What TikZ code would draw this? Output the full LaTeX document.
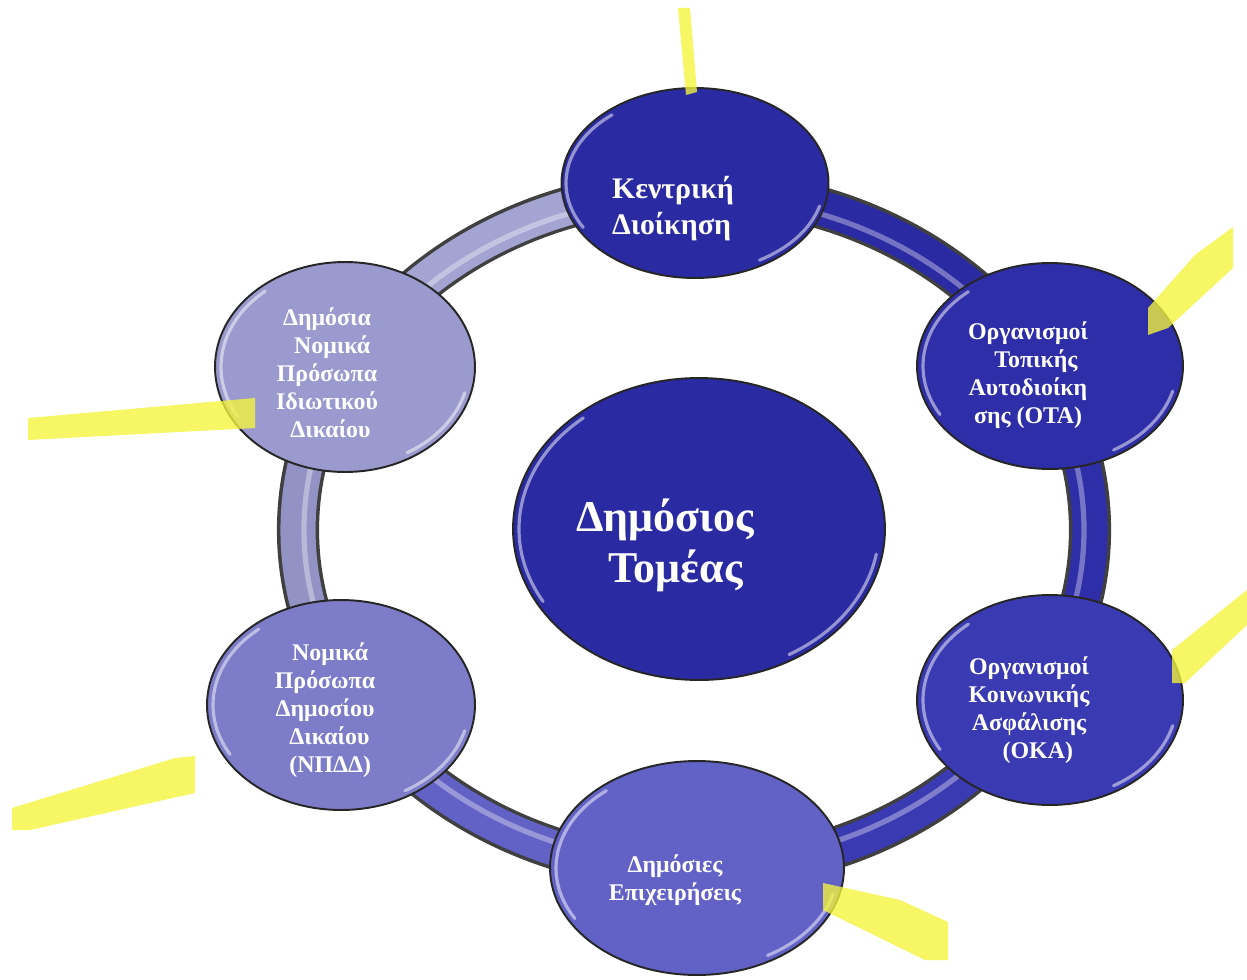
\documentclass[tikz,border=0pt]{standalone}
\usepackage{fontspec}
\setmainfont{Liberation Serif}
\usetikzlibrary{shapes.geometric}
\definecolor{cTop}{HTML}{2A2AA2}
\definecolor{cOTA}{HTML}{2E2EA8}
\definecolor{cOKA}{HTML}{3A3AB2}
\definecolor{cBot}{HTML}{6262C6}
\definecolor{cLB}{HTML}{7C7CC8}
\definecolor{cLT}{HTML}{9A9ACE}
\definecolor{cCen}{HTML}{2A2AA2}
\definecolor{hiyel}{RGB}{245,245,60}
\begin{document}
\begin{tikzpicture}[x=0.02cm,y=-0.02cm,
  blob/.style={ellipse, draw=black!85, line width=1.1pt, inner sep=0pt},
  gloss/.style={draw=white, opacity=0.5, line width=1.8pt, line cap=round},
  ringseg/.style={line width=20pt},
  lblsmall/.style={text=white, font=\bfseries\fontsize{13.6pt}{15.9pt}\selectfont, align=center, inner sep=0pt},
  lbltop/.style={text=white, font=\bfseries\fontsize{17pt}{20.4pt}\selectfont, align=left, inner sep=0pt},
  lblbig/.style={text=white, font=\bfseries\fontsize{25pt}{29pt}\selectfont, align=center, inner sep=0pt},
  hlmark/.style={fill=hiyel, opacity=0.78, draw=none}
]
\useasboundingbox[fill=white] (0,0) rectangle (1247,980);

% ring
\draw[line width=24pt, black!75] (694,530) ellipse [x radius=396, y radius=340];
\draw[ringseg, draw=cLT!90!white] (694,530) ++(205:396 and 340) arc[start angle=205, end angle=272, x radius=396, y radius=340];
\draw[ringseg, draw=cLT!95!black] (694,530) ++(150:396 and 340) arc[start angle=150, end angle=206, x radius=396, y radius=340];
\draw[ringseg, draw=cBot] (694,530) ++(88:396 and 340) arc[start angle=88, end angle=151, x radius=396, y radius=340];
\draw[ringseg, draw=cOKA] (694,530) ++(28:396 and 340) arc[start angle=28, end angle=89, x radius=396, y radius=340];
\draw[ringseg, draw=cOTA] (694,530) ++(-32:396 and 340) arc[start angle=-32, end angle=29, x radius=396, y radius=340];
\draw[ringseg, draw=cTop] (694,530) ++(268:396 and 340) arc[start angle=268, end angle=329, x radius=396, y radius=340];
\draw[draw=white, opacity=0.35, line width=3pt] (694,530) ellipse [x radius=390, y radius=334];

% nodes
\node[blob, fill=cTop, minimum width=5.34cm, minimum height=3.8cm] (top) at (695,183) {};
\node[blob, fill=cOTA, minimum width=5.32cm, minimum height=4.12cm] (ota) at (1050,366) {};
\node[blob, fill=cOKA, minimum width=5.32cm, minimum height=4.2cm] (oka) at (1050,700) {};
\node[blob, fill=cBot, minimum width=5.88cm, minimum height=4.28cm] (bot) at (697,868) {};
\node[blob, fill=cLB, minimum width=5.36cm, minimum height=4.2cm] (lb) at (341,705) {};
\node[blob, fill=cLT, minimum width=5.2cm, minimum height=4.2cm] (lt) at (345,367) {};
\node[blob, fill=cCen, minimum width=7.44cm, minimum height=6.04cm] (cen) at (699,529) {};

% gloss highlights
\draw[gloss] (top.center) ++(150:129 and 89) arc[start angle=150, end angle=230, x radius=129, y radius=89];
\draw[gloss] (ota.center) ++(150:127 and 97) arc[start angle=150, end angle=230, x radius=127, y radius=97];
\draw[gloss] (oka.center) ++(150:127 and 99) arc[start angle=150, end angle=230, x radius=127, y radius=99];
\draw[gloss] (bot.center) ++(150:141 and 101) arc[start angle=150, end angle=230, x radius=141, y radius=101];
\draw[gloss] (lb.center) ++(150:128 and 99) arc[start angle=150, end angle=230, x radius=128, y radius=99];
\draw[gloss] (lt.center) ++(150:124 and 99) arc[start angle=150, end angle=230, x radius=124, y radius=99];
\draw[gloss] (cen.center) ++(150:180 and 145) arc[start angle=150, end angle=230, x radius=180, y radius=145];
\draw[gloss] (top.center) ++(15:129 and 89) arc[start angle=15, end angle=60, x radius=129, y radius=89];
\draw[gloss] (ota.center) ++(15:127 and 97) arc[start angle=15, end angle=60, x radius=127, y radius=97];
\draw[gloss] (oka.center) ++(15:127 and 99) arc[start angle=15, end angle=60, x radius=127, y radius=99];
\draw[gloss] (bot.center) ++(15:141 and 101) arc[start angle=15, end angle=60, x radius=141, y radius=101];
\draw[gloss] (lb.center) ++(15:128 and 99) arc[start angle=15, end angle=60, x radius=128, y radius=99];
\draw[gloss] (lt.center) ++(15:124 and 99) arc[start angle=15, end angle=60, x radius=124, y radius=99];
\draw[gloss] (cen.center) ++(10:180 and 145) arc[start angle=10, end angle=60, x radius=180, y radius=145];

% labels
\node[lbltop] (ttop) at (673,209) {Κεντρική\\Διοίκηση};
\node[lblbig] (tcen) at (665,545) {Δημόσιος\\\hspace*{12pt}Τομέας};
\node[lblsmall] (tlt) at (327,373) {Δημόσια\\\hspace*{6pt}Νομικά\\Πρόσωπα\\Ιδιωτικού\\\hspace*{4pt}Δικαίου};
\node[lblsmall] (tota) at (1028,375) {Οργανισμοί\\\hspace*{9pt}Τοπικής\\Αυτοδιοίκη\\σης (ΟΤΑ)};
\node[lblsmall] (toka) at (1029,710) {Οργανισμοί\\Κοινωνικής\\Ασφάλισης\\\hspace*{10pt}(ΟΚΑ)};
\node[lblsmall] (tbot) at (675,880) {Δημόσιες\\Επιχειρήσεις};
\node[lblsmall] (tlb) at (325,710) {\hspace*{6pt}Νομικά\\Πρόσωπα\\Δημοσίου\\\hspace*{5pt}Δικαίου\\\hspace*{6pt}(ΝΠΔΔ)};

% highlighter marks
\fill[hlmark] (678,8) -- (690,8) -- (697,92) -- (686,95) -- cycle;
\fill[hlmark] (1148,308) -- (1195,255) -- (1233,227) -- (1233,268) -- (1168,328) -- (1148,335) -- cycle;
\fill[hlmark] (28,418) -- (255,398) -- (255,428) -- (28,440) -- cycle;
\fill[hlmark] (12,808) -- (175,758) -- (195,756) -- (195,793) -- (30,830) -- (12,830) -- cycle;
\fill[hlmark] (1172,650) -- (1247,590) -- (1247,625) -- (1185,683) -- (1172,683) -- cycle;
\fill[hlmark] (823,883) -- (900,900) -- (948,922) -- (948,960) -- (925,960) -- (823,910) -- cycle;
\end{tikzpicture}
\end{document}
